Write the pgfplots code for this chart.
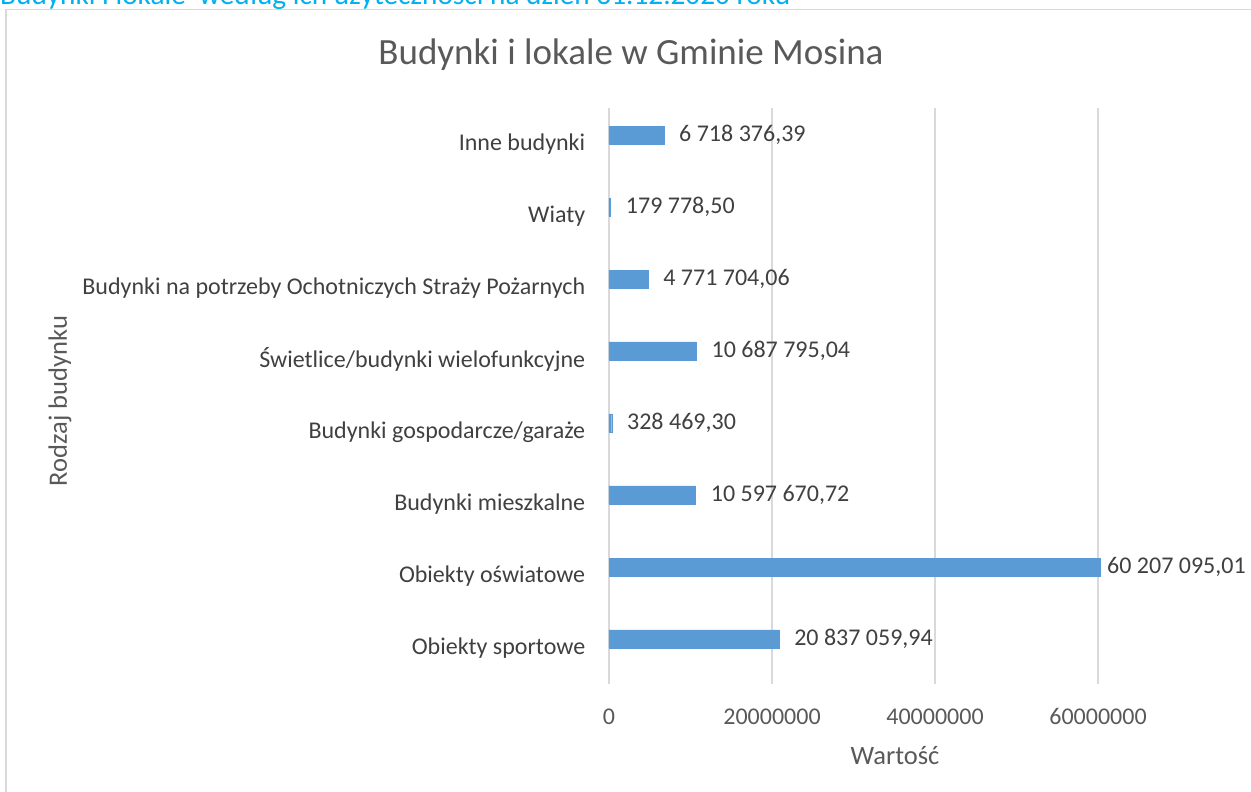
\documentclass[border=0pt]{standalone}
\usepackage{pgfplots}
\pgfplotsset{compat=1.18}
\usepackage{fontspec}
\setmainfont{Carlito}
\definecolor{barblue}{HTML}{5B9BD5}
\definecolor{txt}{HTML}{595959}
\definecolor{lbl}{HTML}{404040}
\definecolor{gridc}{HTML}{D9D9D9}
\definecolor{cap}{HTML}{00B0F0}
\begin{document}
\begin{tikzpicture}
\begin{axis}[
  at={(609pt,108pt)}, anchor=south west,
  scale only axis, width=652pt, height=576pt,
  xmin=0, xmax=80000000, ymin=-0.5, ymax=7.5,
  xbar, bar width=18pt, bar shift=9pt,
  axis line style={draw=none},
  xmajorgrids, major grid style={gridc, line width=1.5pt},
  xtick={0,20000000,40000000,60000000},
  scaled x ticks=false,
  xticklabel style={/pgf/number format/fixed, /pgf/number format/1000 sep={}, /pgf/number format/assume math mode=true, font=\fontsize{24}{29}\selectfont, text=txt, yshift=-21pt},
  ytick={0,...,7},
  yticklabels={Obiekty sportowe, Obiekty oświatowe, Budynki mieszkalne, Budynki gospodarcze/garaże, Świetlice/budynki wielofunkcyjne, Budynki na potrzeby Ochotniczych Straży Pożarnych, Wiaty, Inne budynki},
  yticklabel style={font=\fontsize{24}{29}\selectfont, text=lbl, xshift=-16pt},
  tick style={draw=none},
  point meta=explicit symbolic,
  nodes near coords,
  every node near coord/.append style={font=\fontsize{24}{29}\selectfont, text=lbl, anchor=west, xshift=12pt},
  clip=false,
]
\addplot[fill=barblue, draw=barblue, line width=0.3pt] coordinates {
(20837059.94,0) [20 837 059,94]
(10597670.72,2) [10 597 670,72]
(328469.30,3) [328 469,30]
(10687795.04,4) [10 687 795,04]
(4771704.06,5) [4 771 704,06]
(179778.50,6) [179 778,50]
(6718376.39,7) [6 718 376,39]
};
\addplot[fill=barblue, draw=barblue, line width=0.3pt, nodes near coords style={xshift=-8pt}] coordinates {
(60207095.01,1) [60 207 095,01]
};
\end{axis}
\draw[gridc, line width=1.5pt] (6pt,782.5pt) -- (1270pt,782.5pt);
\draw[gridc, line width=1.5pt] (6pt,782.5pt) -- (6pt,-20pt);
\node[anchor=base west, text=cap, font=\fontsize{29.3}{34}\selectfont, inner sep=0pt] at (0pt,787pt) {Budynki i lokale \ według ich użyteczności na dzień 31.12.2020 roku};
\node[font=\fontsize{37}{44}\selectfont, text=txt] at (631pt,737pt) {Budynki i lokale w Gminie Mosina};
\node[font=\fontsize{26.5}{32}\selectfont, text=txt] at (895pt,36pt) {Wartość};
\node[font=\fontsize{26.5}{32}\selectfont, text=txt, rotate=90] at (60pt,391pt) {Rodzaj budynku};
\pgfresetboundingbox
\path[use as bounding box] (0pt,0pt) rectangle (1251pt,792pt);
\end{tikzpicture}
\end{document}
